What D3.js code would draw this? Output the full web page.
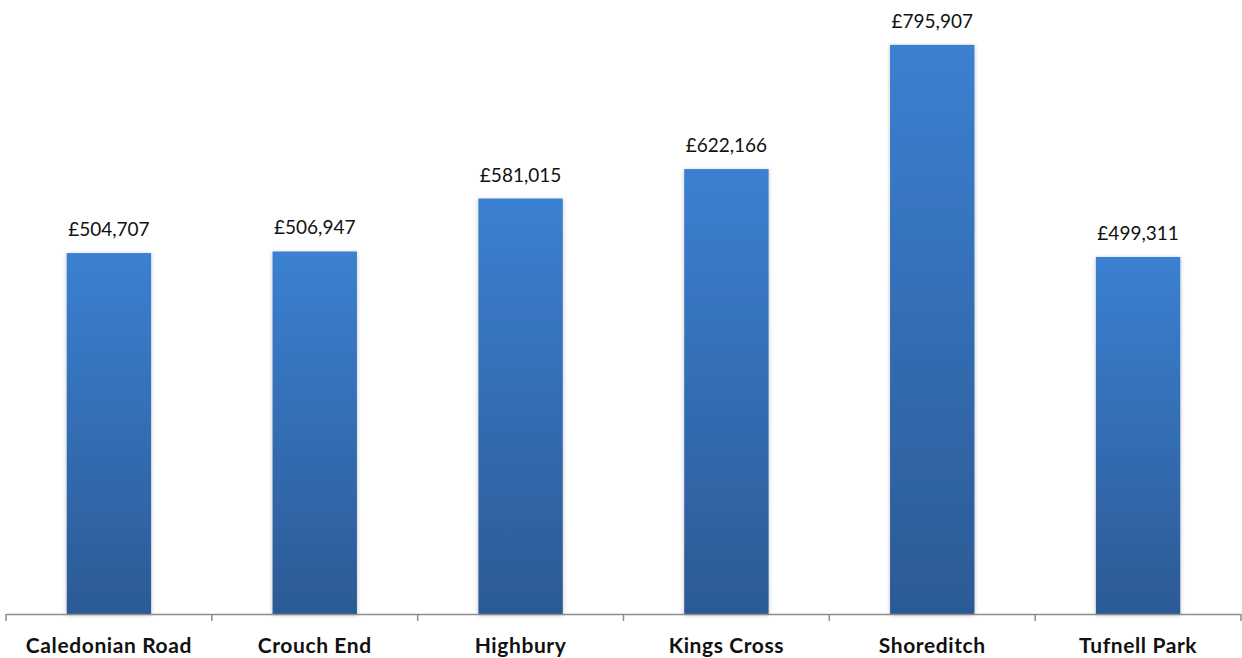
<!DOCTYPE html>
<html>
<head>
<meta charset="utf-8">
<script src="https://cdn.jsdelivr.net/npm/d3@7"></script>
<style>
  body { margin: 0; background: #fff; }
  svg { display: block; }
</style>
</head>
<body>
<svg width="1242" height="658"></svg>
<script>
const areas = ["Caledonian Road", "Crouch End", "Highbury", "Kings Cross", "Shoreditch", "Tufnell Park"];
const prices = [504707, 506947, 581015, 622166, 795907, 499311];

var svg = d3.select("svg"),
    width = +svg.attr("width"),
    height = +svg.attr("height");

var left = 6, right = 1241, baseY = 614;

var x = d3.scaleBand().domain(areas).range([left, right]).paddingInner(0.59).paddingOuter(0.295);
var xEdge = d3.scaleBand().domain(areas).range([left, right]);
var y = d3.scaleLinear().domain([0, 858600]).range([baseY, 0]);

var defs = svg.append("defs");
var grad = defs.append("linearGradient").attr("id", "barGrad")
    .attr("x1", 0).attr("y1", 0).attr("x2", 0).attr("y2", 1);
grad.append("stop").attr("offset", "0%").attr("stop-color", "#3b80d1");
grad.append("stop").attr("offset", "100%").attr("stop-color", "#2c5a95");

var shadow = defs.append("filter").attr("id", "shadow")
    .attr("x", "-10%").attr("y", "-5%").attr("width", "120%").attr("height", "110%");
shadow.append("feDropShadow").attr("dx", 0).attr("dy", 1).attr("stdDeviation", 2)
    .attr("flood-color", "#000").attr("flood-opacity", 0.25);

var fmt = d3.format(",");

svg.append("g").selectAll("rect")
    .data(areas)
    .enter().append("rect")
      .attr("x", d => x(d))
      .attr("width", x.bandwidth())
      .attr("y", (d, i) => y(prices[i]))
      .attr("height", (d, i) => baseY - y(prices[i]))
      .attr("fill", "url(#barGrad)")
      .attr("filter", "url(#shadow)");

// value labels above bars
svg.append("g").selectAll("text")
    .data(areas)
    .enter().append("text")
      .attr("x", d => x(d) + x.bandwidth() / 2)
      .attr("y", (d, i) => y(prices[i]) - 17)
      .attr("text-anchor", "middle")
      .attr("font-family", "Lato, 'Open Sans', sans-serif")
      .attr("font-size", 19)
      .attr("fill", "#111")
      .text((d, i) => "£" + fmt(prices[i]));

// axis line and ticks at category boundaries
var axis = svg.append("g").attr("stroke", "#8c8c8c").attr("stroke-width", 1.5);
axis.append("line").attr("x1", left).attr("x2", right).attr("y1", baseY + 0.5).attr("y2", baseY + 0.5);
var edges = areas.map(d => xEdge(d)).concat([right]);
axis.selectAll("line.tick")
    .data(edges)
    .enter().append("line").attr("class", "tick")
      .attr("x1", d => d).attr("x2", d => d)
      .attr("y1", baseY).attr("y2", baseY + 7);

svg.append("g").selectAll("text")
    .data(areas)
    .enter().append("text")
      .attr("x", d => xEdge(d) + xEdge.bandwidth() / 2)
      .attr("y", 653)
      .attr("text-anchor", "middle")
      .attr("font-family", "Lato, 'Open Sans', sans-serif")
      .attr("font-weight", "bold")
      .attr("font-size", 21)
      .attr("letter-spacing", 0.6)
      .attr("fill", "#111")
      .text(d => d);
</script>
</body>
</html>
